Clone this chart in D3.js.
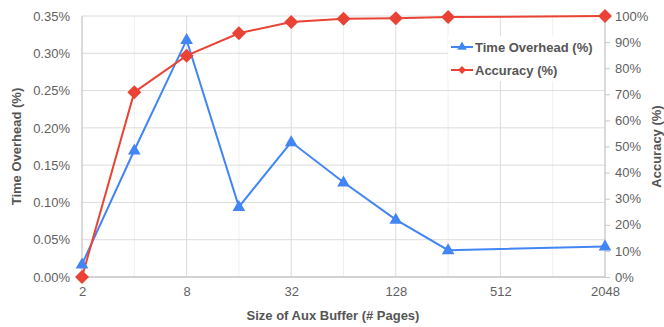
<!DOCTYPE html>
<html><head><meta charset="utf-8">
<script src="https://cdn.jsdelivr.net/npm/d3@7"></script>
<style>body{margin:0;background:#fff}svg{display:block;font-family:"Liberation Sans",Arial,sans-serif}</style>
</head><body><svg id="c" width="664" height="327"></svg>
<script>
const bufferSizes = [2, 4, 8, 16, 32, 64, 128, 256, 2048];
const timeOverhead = [0.017, 0.170, 0.318, 0.094, 0.181, 0.127, 0.077, 0.036, 0.041];
const accuracy = [0, 70.8, 84.8, 93.4, 97.7, 98.9, 99.1, 99.6, 100];
const xTicks = [2, 8, 32, 128, 512, 2048];
const xMinorTicks = [4, 16, 64, 256, 1024];
const leftTicks = [0, 0.05, 0.10, 0.15, 0.20, 0.25, 0.30, 0.35];
const rightTicks = [0, 10, 20, 30, 40, 50, 60, 70, 80, 90, 100];
const seriesNames = ["Time Overhead (%)", "Accuracy (%)"];
const xTitle = "Size of Aux Buffer (# Pages)";
const yLeftTitle = "Time Overhead (%)";
const yRightTitle = "Accuracy (%)";

const blue = "#4285F4", red = "#EA4335";
const L = 82, R = 605, T = 16, B = 277;
const svg = d3.select("#c");
const x = d3.scaleLog().base(2).domain([2, 2048]).range([L, R]);
const yL = d3.scaleLinear().domain([0, 0.35]).range([B, T]);
const yR = d3.scaleLinear().domain([0, 100]).range([B, T]);

// gridlines
svg.append("g").selectAll("line").data(xMinorTicks).join("line")
  .attr("x1", d => x(d)).attr("x2", d => x(d)).attr("y1", T).attr("y2", B)
  .attr("stroke", "#efefef").attr("stroke-width", 1);
svg.append("g").selectAll("line").data(xTicks).join("line")
  .attr("x1", d => x(d)).attr("x2", d => x(d)).attr("y1", T).attr("y2", B)
  .attr("stroke", "#dcdcdc").attr("stroke-width", 1);
svg.append("g").selectAll("line").data(leftTicks).join("line")
  .attr("x1", L).attr("x2", R).attr("y1", d => yL(d)).attr("y2", d => yL(d))
  .attr("stroke", "#dcdcdc").attr("stroke-width", 1);
// axis frame lines
svg.append("line").attr("x1", L).attr("x2", L).attr("y1", T).attr("y2", B).attr("stroke", "#c8c8c8");
svg.append("line").attr("x1", R).attr("x2", R).attr("y1", T).attr("y2", B).attr("stroke", "#c8c8c8");
svg.append("line").attr("x1", L).attr("x2", R).attr("y1", B).attr("y2", B).attr("stroke", "#c8c8c8").attr("stroke-width", 1.5);

// axes
const axL = d3.axisLeft(yL).tickValues(leftTicks).tickFormat(d => d.toFixed(2) + "%").tickSize(0).tickPadding(12);
const gL = svg.append("g").attr("transform", `translate(${L},0)`).call(axL);
const axR = d3.axisRight(yR).tickValues(rightTicks).tickFormat(d => d + "%").tickSize(5).tickPadding(5);
const gR = svg.append("g").attr("transform", `translate(${R},0)`).call(axR);
const axB = d3.axisBottom(x).tickValues(xTicks).tickFormat(d3.format("d")).tickSize(0).tickPadding(10);
const gB = svg.append("g").attr("transform", `translate(0,${B})`).call(axB);
[gL, gR, gB].forEach(g => {
  g.select(".domain").remove();
  g.selectAll("text").attr("font-size", 13).attr("fill", "#5f5f5f").attr("font-family", "Liberation Sans, Arial, sans-serif");
  g.selectAll("line").attr("stroke", "#c8c8c8");
});

// titles
svg.append("text").attr("x", 333).attr("y", 320).attr("text-anchor", "middle")
  .attr("font-size", 13).attr("font-weight", "bold").attr("fill", "#555").text(xTitle);
svg.append("text").attr("transform", `translate(21,${(T+B)/2}) rotate(-90)`).attr("text-anchor", "middle")
  .attr("font-size", 13).attr("font-weight", "bold").attr("fill", "#555").text(yLeftTitle);
svg.append("text").attr("transform", `translate(661,${(T+B)/2}) rotate(-90)`).attr("text-anchor", "middle")
  .attr("font-size", 13).attr("font-weight", "bold").attr("fill", "#555").text(yRightTitle);

// series
const tri = d3.symbol().type(d3.symbolTriangle).size(70);
const dia = (s) => `M0,${-s}L${s},0L0,${s}L${-s},0Z`;

svg.append("path").datum(bufferSizes.map((b, i) => [b, timeOverhead[i]]))
  .attr("fill", "none").attr("stroke", blue).attr("stroke-width", 2)
  .attr("d", d3.line().x(d => x(d[0])).y(d => yL(d[1])));
svg.append("path").datum(bufferSizes.map((b, i) => [b, accuracy[i]]))
  .attr("fill", "none").attr("stroke", red).attr("stroke-width", 2)
  .attr("d", d3.line().x(d => x(d[0])).y(d => yR(d[1])));

svg.append("g").selectAll("path").data(bufferSizes.map((b, i) => [b, timeOverhead[i]])).join("path")
  .attr("transform", d => `translate(${x(d[0])},${yL(d[1]) + 0.5})`).attr("d", tri).attr("fill", blue);
svg.append("g").selectAll("path").data(bufferSizes.map((b, i) => [b, accuracy[i]])).join("path")
  .attr("transform", d => `translate(${x(d[0])},${yR(d[1])})`).attr("d", dia(7)).attr("fill", red);

// legend
const lg = svg.append("g");
lg.append("rect").attr("x", 448).attr("y", 36).attr("width", 156).attr("height", 45).attr("fill", "#fff");
const items = [{name: seriesNames[0], color: blue, sym: "tri", y: 47}, {name: seriesNames[1], color: red, sym: "dia", y: 70}];
items.forEach(it => {
  lg.append("line").attr("x1", 451).attr("x2", 473).attr("y1", it.y).attr("y2", it.y).attr("stroke", it.color).attr("stroke-width", 2);
  if (it.sym === "tri") lg.append("path").attr("transform", `translate(462,${it.y})`).attr("d", d3.symbol().type(d3.symbolTriangle).size(40)).attr("fill", it.color);
  else lg.append("path").attr("transform", `translate(462,${it.y})`).attr("d", dia(4)).attr("fill", it.color);
  lg.append("text").attr("x", 475).attr("y", it.y).attr("dy", "0.35em").attr("font-size", 13).attr("font-weight", "bold").attr("fill", "#555").text(it.name);
});
</script></body></html>
